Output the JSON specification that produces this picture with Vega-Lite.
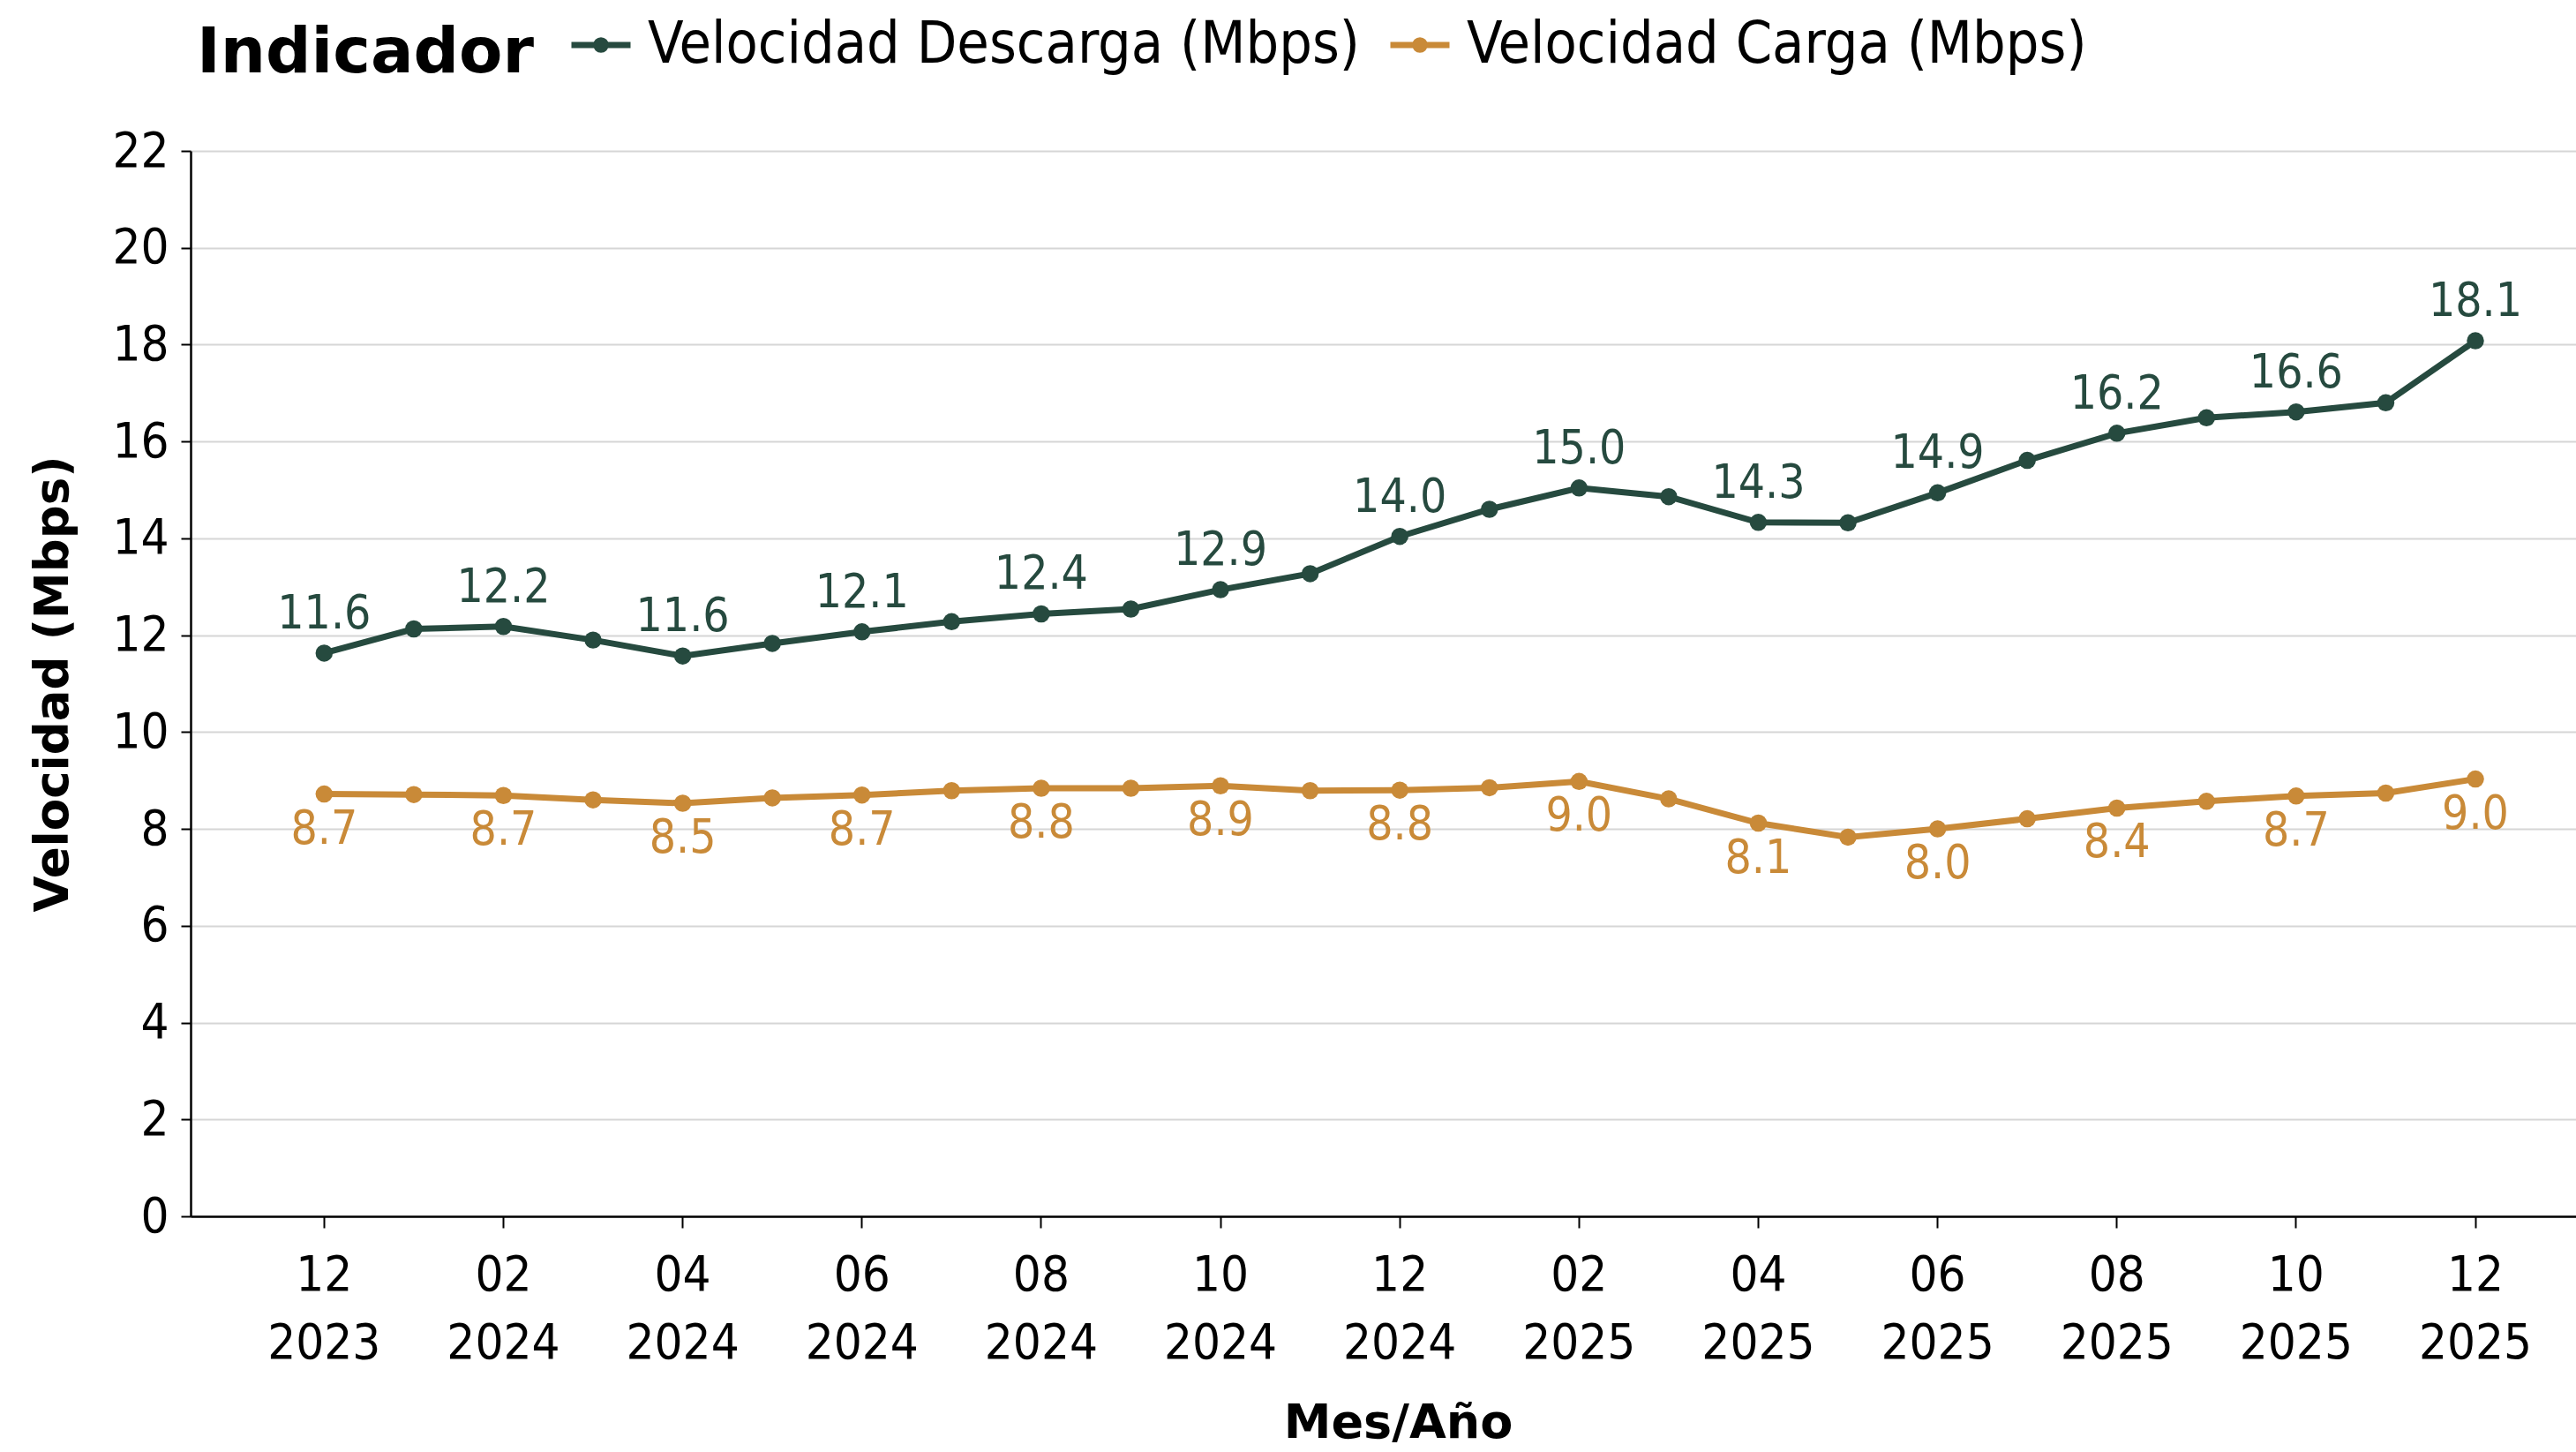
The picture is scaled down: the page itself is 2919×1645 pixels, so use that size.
{
  "$schema": "https://vega.github.io/schema/vega-lite/v6.json",
  "width": 2703,
  "height": 1207,
  "autosize": "none",
  "padding": {"left": 216, "top": 171, "right": 0, "bottom": 267},
  "background": "white",
  "config": {"view": {"stroke": null}, "font": "DejaVu Sans Condensed"},
  "data": {
    "values": [
      {"mes": "2023-12", "indicador": "Velocidad Descarga (Mbps)", "valor": 11.63},
      {"mes": "2024-01", "indicador": "Velocidad Descarga (Mbps)", "valor": 12.13},
      {"mes": "2024-02", "indicador": "Velocidad Descarga (Mbps)", "valor": 12.18},
      {"mes": "2024-03", "indicador": "Velocidad Descarga (Mbps)", "valor": 11.9},
      {"mes": "2024-04", "indicador": "Velocidad Descarga (Mbps)", "valor": 11.57},
      {"mes": "2024-05", "indicador": "Velocidad Descarga (Mbps)", "valor": 11.83},
      {"mes": "2024-06", "indicador": "Velocidad Descarga (Mbps)", "valor": 12.07},
      {"mes": "2024-07", "indicador": "Velocidad Descarga (Mbps)", "valor": 12.28},
      {"mes": "2024-08", "indicador": "Velocidad Descarga (Mbps)", "valor": 12.44},
      {"mes": "2024-09", "indicador": "Velocidad Descarga (Mbps)", "valor": 12.54},
      {"mes": "2024-10", "indicador": "Velocidad Descarga (Mbps)", "valor": 12.94},
      {"mes": "2024-11", "indicador": "Velocidad Descarga (Mbps)", "valor": 13.27},
      {"mes": "2024-12", "indicador": "Velocidad Descarga (Mbps)", "valor": 14.04},
      {"mes": "2025-01", "indicador": "Velocidad Descarga (Mbps)", "valor": 14.6},
      {"mes": "2025-02", "indicador": "Velocidad Descarga (Mbps)", "valor": 15.04},
      {"mes": "2025-03", "indicador": "Velocidad Descarga (Mbps)", "valor": 14.86},
      {"mes": "2025-04", "indicador": "Velocidad Descarga (Mbps)", "valor": 14.33},
      {"mes": "2025-05", "indicador": "Velocidad Descarga (Mbps)", "valor": 14.32},
      {"mes": "2025-06", "indicador": "Velocidad Descarga (Mbps)", "valor": 14.94},
      {"mes": "2025-07", "indicador": "Velocidad Descarga (Mbps)", "valor": 15.61},
      {"mes": "2025-08", "indicador": "Velocidad Descarga (Mbps)", "valor": 16.17},
      {"mes": "2025-09", "indicador": "Velocidad Descarga (Mbps)", "valor": 16.49},
      {"mes": "2025-10", "indicador": "Velocidad Descarga (Mbps)", "valor": 16.61},
      {"mes": "2025-11", "indicador": "Velocidad Descarga (Mbps)", "valor": 16.8},
      {"mes": "2025-12", "indicador": "Velocidad Descarga (Mbps)", "valor": 18.08},
      {"mes": "2023-12", "indicador": "Velocidad Carga (Mbps)", "valor": 8.72},
      {"mes": "2024-01", "indicador": "Velocidad Carga (Mbps)", "valor": 8.71},
      {"mes": "2024-02", "indicador": "Velocidad Carga (Mbps)", "valor": 8.69},
      {"mes": "2024-03", "indicador": "Velocidad Carga (Mbps)", "valor": 8.6},
      {"mes": "2024-04", "indicador": "Velocidad Carga (Mbps)", "valor": 8.53},
      {"mes": "2024-05", "indicador": "Velocidad Carga (Mbps)", "valor": 8.64},
      {"mes": "2024-06", "indicador": "Velocidad Carga (Mbps)", "valor": 8.7},
      {"mes": "2024-07", "indicador": "Velocidad Carga (Mbps)", "valor": 8.79},
      {"mes": "2024-08", "indicador": "Velocidad Carga (Mbps)", "valor": 8.84},
      {"mes": "2024-09", "indicador": "Velocidad Carga (Mbps)", "valor": 8.84},
      {"mes": "2024-10", "indicador": "Velocidad Carga (Mbps)", "valor": 8.89},
      {"mes": "2024-11", "indicador": "Velocidad Carga (Mbps)", "valor": 8.79},
      {"mes": "2024-12", "indicador": "Velocidad Carga (Mbps)", "valor": 8.8},
      {"mes": "2025-01", "indicador": "Velocidad Carga (Mbps)", "valor": 8.85},
      {"mes": "2025-02", "indicador": "Velocidad Carga (Mbps)", "valor": 8.98},
      {"mes": "2025-03", "indicador": "Velocidad Carga (Mbps)", "valor": 8.62},
      {"mes": "2025-04", "indicador": "Velocidad Carga (Mbps)", "valor": 8.12},
      {"mes": "2025-05", "indicador": "Velocidad Carga (Mbps)", "valor": 7.83},
      {"mes": "2025-06", "indicador": "Velocidad Carga (Mbps)", "valor": 8.0},
      {"mes": "2025-07", "indicador": "Velocidad Carga (Mbps)", "valor": 8.21},
      {"mes": "2025-08", "indicador": "Velocidad Carga (Mbps)", "valor": 8.43},
      {"mes": "2025-09", "indicador": "Velocidad Carga (Mbps)", "valor": 8.57},
      {"mes": "2025-10", "indicador": "Velocidad Carga (Mbps)", "valor": 8.68},
      {"mes": "2025-11", "indicador": "Velocidad Carga (Mbps)", "valor": 8.74},
      {"mes": "2025-12", "indicador": "Velocidad Carga (Mbps)", "valor": 9.03}
    ]
  },
  "layer": [
    {
      "mark": {"type": "line", "strokeWidth": 7, "point": {"filled": true, "size": 380}},
      "encoding": {
        "x": {
          "field": "mes", "type": "ordinal", "sort": null, "bandPosition": 0.5,
          "scale": {"type": "band", "paddingInner": 0, "paddingOuter": 0.806, "align": 0.614},
          "axis": {
            "values": ["2023-12", "2024-02", "2024-04", "2024-06", "2024-08", "2024-10", "2024-12", "2025-02", "2025-04", "2025-06", "2025-08", "2025-10", "2025-12"],
            "bandPosition": 0.5,
            "labelExpr": "[slice(datum.value, 5), slice(datum.value, 0, 4)]",
            "labelAngle": 0,
            "labelFont": "DejaVu Sans Condensed",
            "labelFontSize": 56,
            "labelLineHeight": 77,
            "labelPadding": 26,
            "labelColor": "black",
            "labelOverlap": false,
            "labelBaseline": "top",
            "tickSize": 13,
            "tickWidth": 2,
            "tickColor": "black",
            "domainColor": "black",
            "domainWidth": 2.5,
            "grid": false,
            "title": "Mes/Año",
            "titleFont": "DejaVu Sans",
            "titleFontWeight": "bold",
            "titleFontSize": 54,
            "titleColor": "black",
            "titleX": 1368,
            "titleY": 234,
            "titleBaseline": "middle"
          }
        },
        "y": {
          "field": "valor", "type": "quantitative",
          "scale": {"domain": [0, 22], "nice": false},
          "axis": {
            "values": [0, 2, 4, 6, 8, 10, 12, 14, 16, 18, 20, 22],
            "grid": true,
            "gridColor": "#d6d6d6",
            "gridWidth": 2,
            "domainColor": "black",
            "domainWidth": 2.5,
            "tickColor": "black",
            "tickSize": 11,
            "tickWidth": 2,
            "labelFont": "DejaVu Sans Condensed",
            "labelFontSize": 56,
            "labelColor": "black",
            "labelPadding": 14,
            "title": "Velocidad (Mbps)",
            "titleFont": "DejaVu Sans",
            "titleFontWeight": "bold",
            "titleFontSize": 53,
            "titleColor": "black",
            "titleX": -156,
            "titleY": 603.5,
            "titleBaseline": "middle"
          }
        },
        "color": {
          "field": "indicador", "type": "nominal",
          "scale": {"domain": ["Velocidad Descarga (Mbps)", "Velocidad Carga (Mbps)"], "range": ["#264a3f", "#c98a38"]},
          "legend": {
            "orient": "none",
            "legendX": 7,
            "legendY": -157,
            "direction": "horizontal",
            "title": "Indicador",
            "titleOrient": "left",
            "titleFont": "DejaVu Sans",
            "titleFontWeight": "bold",
            "titleFontSize": 72,
            "titleColor": "black",
            "titlePadding": 38,
            "titleLimit": 2000,
            "labelFont": "DejaVu Sans Condensed",
            "labelFontSize": 66,
            "labelColor": "black",
            "labelLimit": 2000,
            "labelOffset": 16,
            "columnPadding": 20,
            "padding": 0,
            "symbolType": "M-1,0H1M-0.16,0A0.16,0.16,0,1,1,0.16,0A0.16,0.16,0,1,1,-0.16,0Z",
            "symbolSize": 4489,
            "symbolStrokeWidth": 7,
            "encode": {
              "title": {"update": {"dy": {"value": 11}}},
              "symbols": {
                "update": {
                  "fill": {"scale": "color", "field": "value"},
                  "stroke": {"scale": "color", "field": "value"}
                }
              }
            }
          }
        }
      }
    },
    {
      "transform": [{"filter": "datum.indicador == 'Velocidad Descarga (Mbps)' && toNumber(slice(datum.mes, 5)) % 2 == 0"}],
      "mark": {"type": "text", "font": "DejaVu Sans Condensed", "fontSize": 53, "color": "#264a3f", "baseline": "alphabetic", "dy": -28},
      "encoding": {
        "x": {"field": "mes", "type": "ordinal", "sort": null, "bandPosition": 0.5},
        "y": {"field": "valor", "type": "quantitative"},
        "text": {"field": "valor", "type": "quantitative", "format": ".1f"}
      }
    },
    {
      "transform": [{"filter": "datum.indicador == 'Velocidad Carga (Mbps)' && toNumber(slice(datum.mes, 5)) % 2 == 0"}],
      "mark": {"type": "text", "font": "DejaVu Sans Condensed", "fontSize": 53, "color": "#c98a38", "baseline": "top", "dy": 14},
      "encoding": {
        "x": {"field": "mes", "type": "ordinal", "sort": null, "bandPosition": 0.5},
        "y": {"field": "valor", "type": "quantitative"},
        "text": {"field": "valor", "type": "quantitative", "format": ".1f"}
      }
    }
  ]
}
